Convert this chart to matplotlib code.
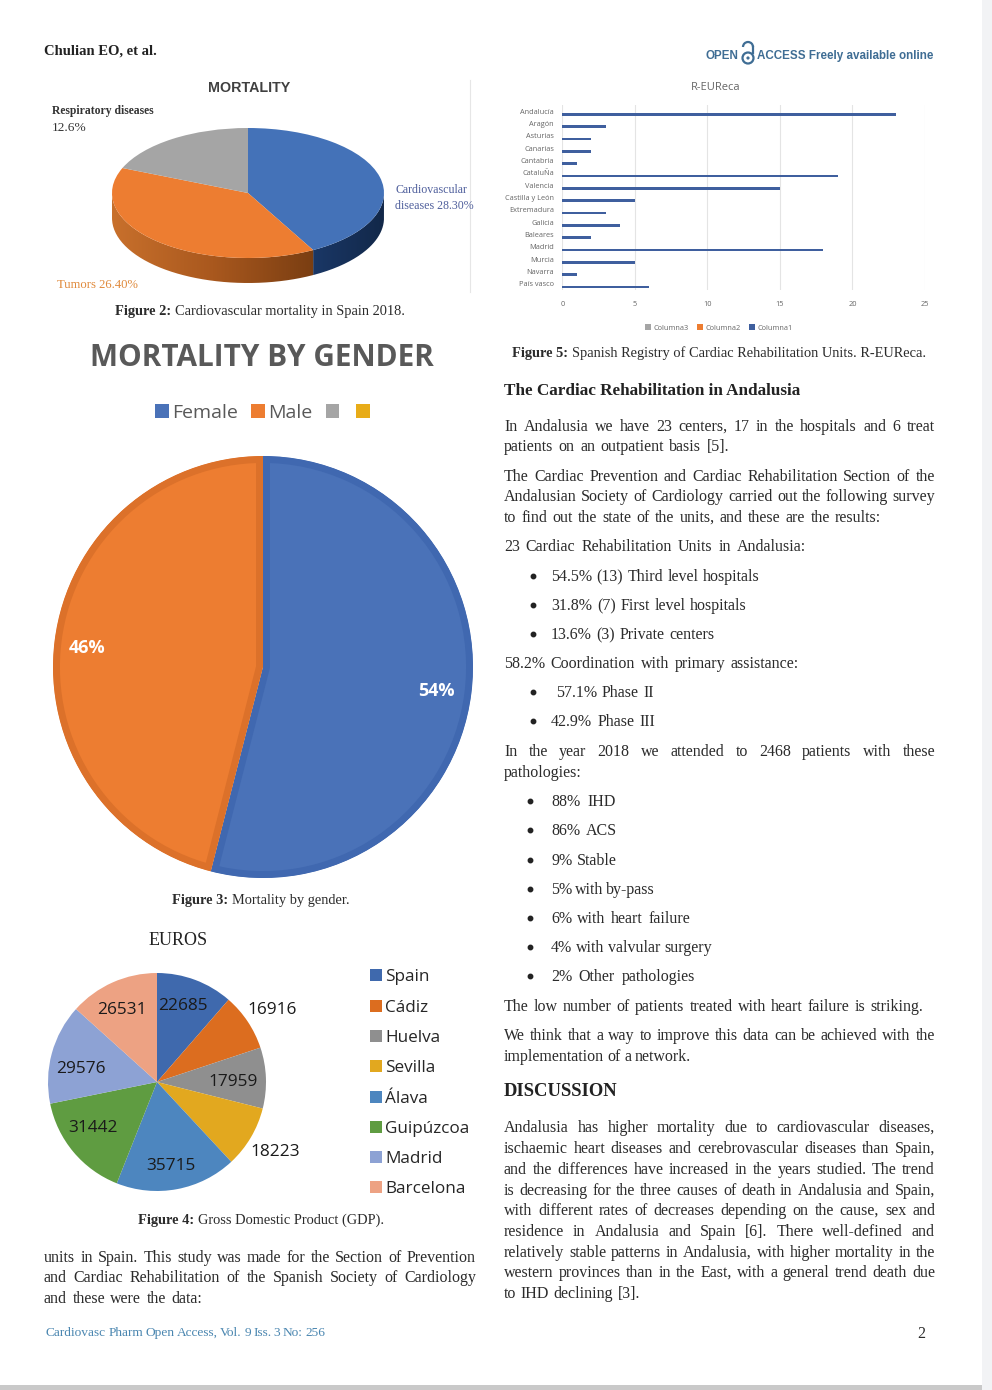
import numpy as np
import matplotlib
matplotlib.use('Agg')
import matplotlib.pyplot as plt
from matplotlib.patches import Rectangle, Circle, Arc, PathPatch
from matplotlib.path import Path
from matplotlib.colors import LinearSegmentedColormap

W, H = 992, 1390

# Figure 2
mort_labels = ['Cardiovascular diseases', 'Tumors', 'Respiratory diseases']
mort_values = [28.3, 26.4, 12.6]
mort_colors = ['#4472b8', '#ed7d31', '#a5a5a5']

# Figure 3
gender_labels = ['Female', 'Male', '', '']
gender_values = [54, 46, 0, 0]
gender_fill = ['#4a72b8', '#ed7d31', '#a5a5a5', '#e8ac18']
gender_edge = ['#4068b0', '#dc712a', '#a5a5a5', '#e8ac18']

# Figure 4
gdp_labels = ['Spain', 'Cádiz', 'Huelva', 'Sevilla', 'Álava', 'Guipúzcoa', 'Madrid', 'Barcelona']
gdp_values = [22685, 16916, 17959, 18223, 35715, 31442, 29576, 26531]
gdp_colors = ['#3f69ad', '#dc6d1f', '#8f8f8f', '#e2a81f', '#4d86bf', '#5f9c41', '#8da2d4', '#eda283']
gdp_label_pos = [(183, 1006), (272, 1010), (233, 1082), (275, 1152), (171, 1166), (93, 1128), (81, 1069), (122, 1010)]

# Figure 5
regions = ['Andalucía', 'Aragón', 'Asturias', 'Canarias', 'Cantabria', 'CataluÑa', 'Valencia',
           'Castilla y León', 'Extremadura', 'Galicia', 'Baleares', 'Madrid', 'Murcia', 'Navarra', 'País vasco']
columna1 = [23, 3, 2, 2, 1, 19, 15, 5, 3, 4, 2, 18, 5, 1, 6]
columna2 = [0] * 15
columna3 = [0] * 15
bar_ticks = [0, 5, 10, 15, 20, 25]

# (y, text, right edge or None)
left_lines = [
    (1257, 'units in Spain. This study was made for the Section of Prevention', 476),
    (1277, 'and Cardiac Rehabilitation of the Spanish Society of Cardiology', 476),
    (1298, 'and these were the data:', 202),
]
right_lines = [
    (426, 'In Andalusia we have 23 centers, 17 in the hospitals and 6 treat', 935),
    (446, 'patients on an outpatient basis [5].', 729),
    (476, 'The Cardiac Prevention and Cardiac Rehabilitation Section of the', 935),
    (496, 'Andalusian Society of Cardiology carried out the following survey', 935),
    (517, 'to find out the state of the units, and these are the results:', 881),
    (546, '23 Cardiac Rehabilitation Units in Andalusia:', 806),
    (663, '58.2% Coordination with primary assistance:', 799),
    (751, 'In the year 2018 we attended to 2468 patients with these', 935),
    (772, 'pathologies:', 586),
    (1006, 'The low number of patients treated with heart failure is striking.', 923),
    (1035, 'We think that a way to improve this data can be achieved with the', 935),
    (1056, 'implementation of a network.', 691),
    (1127, 'Andalusia has higher mortality due to cardiovascular diseases,', 935),
    (1148, 'ischaemic heart diseases and cerebrovascular diseases than Spain,', 935),
    (1169, 'and the differences have increased in the years studied. The trend', 935),
    (1190, 'is decreasing for the three causes of death in Andalusia and Spain,', 935),
    (1210, 'with different rates of decreases depending on the cause, sex and', 935),
    (1231, 'residence in Andalusia and Spain [6]. There well-defined and', 935),
    (1252, 'relatively stable patterns in Andalusia, with higher mortality in the', 935),
    (1272, 'western provinces than in the East, with a general trend death due', 935),
    (1293, 'to IHD declining [3].', 640),
]
bullets = [
    (576, 533, 551, '54.5% (13) Third level hospitals', 760),
    (605, 533, 551, '31.8% (7)  First level hospitals', 747),
    (634, 533, 551, '13.6% (3) Private centers', 714),
    (692, 533, 556, '57.1% Phase II', 654),
    (721, 533, 551, '42.9% Phase III', 655),
    (801, 530, 551, '88% IHD', 616),
    (830, 530, 551, '86% ACS', 617),
    (860, 530, 551, '9% Stable', 617),
    (889, 530, 551, '5% with by-pass', 655),
    (918, 530, 551, '6% with heart failure', 690),
    (947, 530, 551, '4% with valvular surgery', 712),
    (976, 530, 551, '2% Other pathologies', 695),
]

SERIF = 'Liberation Serif'
SANS = 'Open Sans'
INK = '#2b2b2b'

fig = plt.figure(figsize=(W / 100, H / 100), dpi=100, facecolor='white')
renderer = fig.canvas.get_renderer()


def axes_px(x0, y0, x1, y1, **kw):
    return fig.add_axes([x0 / W, 1 - y1 / H, (x1 - x0) / W, (y1 - y0) / H], **kw)


page = axes_px(0, 0, W, H, zorder=10)
page.set_xlim(0, W)
page.set_ylim(H, 0)
page.axis('off')


def put(x, y, text, x1=None, size=11.5, **kw):
    # one line of text, words spread out so that it ends at x1
    kw.setdefault('family', SERIF)
    kw.setdefault('color', INK)
    if x1 is None:
        return page.text(x, y + 5, text, fontsize=size, va='baseline', **kw)
    words = text.split()
    items = [page.text(x, y + 5, w, fontsize=size, va='baseline', **kw) for w in words]
    widths = [t.get_window_extent(renderer).width for t in items]
    gap = (x1 - x - sum(widths)) / max(len(words) - 1, 1)
    pos = x
    for t, w in zip(items, widths):
        t.set_x(pos)
        pos += w + gap
    return items


def caption(x, y, bold, rest):
    t = put(x, y, bold, weight='bold', size=10.4)
    w = t.get_window_extent(renderer).width
    put(x + w + 4, y, rest, size=10.4)


# page edges
page.add_patch(Rectangle((982, 0), 10, H, color='#f2f3f5', lw=0))
page.add_patch(Rectangle((0, 1385), 982, 5, color='#c9c9c9', lw=0))
page.plot([470, 470], [80, 292], color='#e6e6e6', lw=0.8)

# header and footer
put(44, 50, 'Chulian EO, et al.', weight='bold', size=10.5, color='#222222')
head = dict(family='Liberation Sans', weight='bold', color='#3f6d94', size=8.4)
put(705, 54, 'OPEN', **head)
put(757, 54, 'ACCESS Freely available online', **head)
page.add_patch(Circle((748, 58), 5.5, fill=False, ec='#3f6d94', lw=1.6))
page.add_patch(Circle((748, 58), 1.6, color='#3f6d94', lw=0))
page.add_patch(Arc((748, 47), 10, 10, theta1=180, theta2=360, ec='#3f6d94', lw=1.6))
page.plot([753, 753], [47, 53], color='#3f6d94', lw=1.6)
put(46, 1331, 'Cardiovasc Pharm Open Access, Vol. 9 Iss. 3 No: 256', x1=325, size=9.6, color='#4a86b0')
put(917, 1333, '2', size=11.5)

# Figure 2: pie with a rim
cx, cy, rx, ry, depth = 248, 193, 136, 65, 25 / 65
ax = axes_px(cx - 1.2 * rx, cy - 1.2 * ry, cx + 1.2 * rx, cy + (1.2 + depth + 0.2) * ry)
shares = np.cumsum([0] + mort_values) / sum(mort_values)
angles = 90 - 360 * shares
side_cmaps = [['#1a3766', '#122849'], ['#c8702c', '#a9581e', '#7a3e12']]
side_ranges = [(angles[1], 0), (180, 360 + angles[1])]
for (a0, a1), cols in zip(side_ranges, side_cmaps):
    th = np.radians(np.linspace(a0, a1, 80))
    xs = np.concatenate([np.cos(th), np.cos(th[::-1])])
    ys = np.concatenate([np.sin(th), np.sin(th[::-1]) - depth])
    patch = PathPatch(Path(np.column_stack([xs, ys])), fc='none', ec='none')
    ax.add_patch(patch)
    im = ax.imshow(np.linspace(0, 1, 200).reshape(1, -1), aspect='auto',
                   cmap=LinearSegmentedColormap.from_list('side', cols),
                   extent=(xs.min(), xs.max(), ys.min(), ys.max()))
    im.set_clip_path(patch)
ax.pie(mort_values, colors=mort_colors, startangle=90, counterclock=False)
ax.set_aspect('auto')
ax.set_xlim(-1.2, 1.2)
ax.set_ylim(-1.4 - depth, 1.2)
ax.axis('off')

put(208, 87, 'MORTALITY', family='Liberation Sans', weight='bold', size=10.3, color='#404040')
put(52, 109, 'Respiratory diseases', weight='bold', size=8.4, color='#333333')
put(52, 126, '12.6%', size=9.6, color='#333333')
put(395, 188, 'Cardiovascular', size=8.6, color='#4f5f9c')
put(395, 204, 'diseases 28.30%', size=8.6, color='#4f5f9c')
put(57, 283, 'Tumors 26.40%', size=9.1, color='#e08a3c')
caption(115, 310, 'Figure 2:', 'Cardiovascular mortality in Spain 2018.')

# Figure 3: gender pie
ax = axes_px(263 - 210, 667 - 211, 263 + 210, 667 + 211)
wedges, _ = ax.pie(gender_values, colors=gender_fill, startangle=90, counterclock=False,
                   radius=1, wedgeprops=dict(linewidth=0))
# the legend copies the wedge style, so make it before the thick rims go on
gender_legend = page.legend(wedges, gender_labels, loc='center', bbox_to_anchor=(264, 413),
                            bbox_transform=page.transData, ncol=4, frameon=False,
                            prop=dict(family=SANS, size=14), labelcolor='#595959',
                            handlelength=0.7, handleheight=0.7, handletextpad=0.15, columnspacing=0.7)
page.add_artist(gender_legend)
for w, ec, val in zip(wedges, gender_edge, gender_values):
    if val > 0:
        w.set_edgecolor(ec)
        w.set_linewidth(10)
        w.set_clip_on(True)
        w.set_clip_path(w)
ax.set_aspect('auto')
ax.set_xlim(-1, 1)
ax.set_ylim(-1, 1)
page.text(262, 358, 'MORTALITY BY GENDER', family=SANS, weight='bold', fontsize=21.4, color='#595959',
          ha='center', va='center')
page.text(436, 691, '54%', family=SANS, weight='bold', fontsize=13, color='white', ha='center', va='center')
page.text(87, 648, '46%', family=SANS, weight='bold', fontsize=13, color='white', ha='center', va='center')
caption(172, 899, 'Figure 3:', 'Mortality by gender.')

# Figure 4: GDP pie
ax = axes_px(157 - 109, 1082 - 109, 157 + 109, 1082 + 109)
wedges, _ = ax.pie(gdp_values, colors=gdp_colors, startangle=90, counterclock=False)
ax.set_xlim(-1, 1)
ax.set_ylim(-1, 1)
for val, (lx, ly) in zip(gdp_values, gdp_label_pos):
    page.text(lx, ly, str(val), family=SANS, fontsize=12.4, color='#1a1a1a', ha='center', va='center')
put(149, 940, 'EUROS', size=13, color='#222222')
gdp_legend = page.legend(wedges, gdp_labels, loc='upper left', bbox_to_anchor=(355, 954),
                         bbox_transform=page.transData, frameon=False, prop=dict(family=SANS, size=12.3),
                         labelcolor='#262626', labelspacing=0.836, handlelength=0.7, handleheight=0.7,
                         handletextpad=0.15)
page.add_artist(gdp_legend)
caption(138, 1219, 'Figure 4:', 'Gross Domestic Product (GDP).')

# Figure 5: bars
ax = axes_px(562.3, 105, 925, 290)
y = np.arange(len(regions))
h = 0.22
b3 = ax.barh(y - 0.25, columna3, height=h, color='#a5a5a5', label='Columna3')
b2 = ax.barh(y, columna2, height=h, color='#ed7d31', label='Columna2')
b1 = ax.barh(y + 0.25, columna1, height=h, color='#3f5f9e', label='Columna1')
ax.set_xlim(0, 25)
ax.set_ylim(14.5, -0.5)
ax.set_xticks(bar_ticks)
ax.set_yticks(y)
ax.set_yticklabels(regions, family=SANS, fontsize=5.3, color='#666666')
ax.tick_params(length=0, pad=6)
ax.tick_params(axis='x', labelsize=5.3, labelcolor='#666666', pad=8)
for lab in ax.get_xticklabels():
    lab.set_family(SANS)
ax.grid(axis='x', color='#e4e4e4', lw=0.8)
ax.set_axisbelow(True)
for s in ax.spines.values():
    s.set_visible(False)
page.legend([b3, b2, b1], ['Columna3', 'Columna2', 'Columna1'], loc='center', bbox_to_anchor=(719, 328),
            bbox_transform=page.transData, ncol=3, frameon=False, prop=dict(family=SANS, size=5.3),
            labelcolor='#666666', handlelength=0.8, handleheight=0.8, handletextpad=0.3, columnspacing=1.2)
page.text(716, 88, 'R-EUReca', family=SANS, fontsize=8, color='#666666', ha='center', va='center')
caption(512, 352, 'Figure 5:', 'Spanish Registry of Cardiac Rehabilitation Units. R-EUReca.')

# running text
put(504, 390, 'The Cardiac Rehabilitation in Andalusia', weight='bold', size=12.3, color='#222222')
put(504, 1091, 'DISCUSSION', weight='bold', size=13.4, color='#222222')
for yy, txt, x1 in left_lines:
    put(44, yy, txt, x1=x1)
for yy, txt, x1 in right_lines:
    put(504, yy, txt, x1=x1)
for yy, bx, tx, txt, x1 in bullets:
    page.plot(bx, yy, 'o', color='#222222', ms=3.2)
    put(tx, yy, txt, x1=x1)

fig.savefig('out.png', dpi=100)
